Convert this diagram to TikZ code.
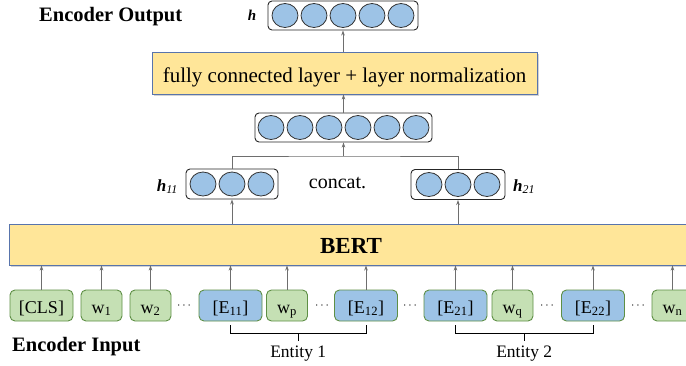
\documentclass[tikz,border=0pt]{standalone}
\usepackage{fontspec}
\setmainfont{Liberation Serif}
\usetikzlibrary{shapes.geometric,shadows,arrows.meta,calc}
\definecolor{cellblue}{HTML}{9DC3E6}
\definecolor{tokgreen}{HTML}{C5E0B4}
\definecolor{tokborder}{HTML}{5E8F45}
\definecolor{layeryellow}{HTML}{FFE699}
\definecolor{layerborder}{HTML}{5874AC}
\definecolor{arrowgrey}{HTML}{6E6E6E}
\newcommand{\fs}[1]{\fontsize{#1}{#1}\selectfont}
\begin{document}
\begin{tikzpicture}[x=1pt,y=-1pt,
  vecbox/.style={draw=black!85, line width=0.9pt, rounded corners=4pt, fill=white, inner sep=0pt},
  cell/.style={ellipse, draw=black!80, line width=0.8pt, fill=cellblue, minimum width=26pt, minimum height=24pt, inner sep=0pt},
  token/.style={rounded corners=5pt, draw=tokborder, line width=0.9pt, minimum height=31pt, inner sep=0pt, font=\fs{18}, text height=15pt, text depth=0pt},
  gtok/.style={token, fill=tokgreen, minimum width=41pt},
  btok/.style={token, fill=cellblue, minimum width=63pt},
  layerbox/.style={draw=layerborder, line width=0.9pt, fill=layeryellow, inner sep=0pt, drop shadow={shadow xshift=1.5pt, shadow yshift=-1.5pt, opacity=0.35}},
  conn/.style={draw=arrowgrey, line width=1pt},
  arr/.style={conn, -{Stealth[length=5pt,width=3.5pt]}},
  dotsnode/.style={font=\fs{13}, inner sep=0pt},
  bracket/.style={draw=black, line width=1pt},
  entlabel/.style={font=\fs{17.5}, anchor=base, inner sep=0pt},
  bigtitle/.style={font=\fs{20.5}\bfseries, anchor=base west, inner sep=0pt}
]
\clip (0,0) rectangle (686,365);
\useasboundingbox (0,0) rectangle (686,365);

% titles
\node[bigtitle] (outtitle) at (39,21) {Encoder Output};
\node[bigtitle] (intitle) at (12,351) {Encoder Input};

% top vector h
\node[vecbox, minimum width=150pt, minimum height=29pt] (hbox) at (343,15.5) {};
\foreach \k in {-2,...,2} \node[cell] (hc\k) at ($(hbox.center)+(\k*29,0)$) {};
\node[font=\fs{15}\bfseries\itshape, anchor=base, inner sep=0pt] (hlab) at (252,20) {h};

% fully connected layer
\node[layerbox, minimum width=385pt, minimum height=42pt, font=\fs{21}, text height=18pt, text depth=0pt] (fc) at (344.5,73) {fully connected layer + layer normalization};

% middle vector
\node[vecbox, minimum width=177pt, minimum height=29pt] (mid) at (343.5,127.5) {};
\foreach \k in {0,...,5} \node[cell] (mc\k) at ($(mid.center)+(\k*29-72.5,0)$) {};

% h11 and h21
\node[vecbox, minimum width=92pt, minimum height=30pt] (h11) at (232,184) {};
\foreach \k in {-1,0,1} \node[cell] (ac\k) at ($(h11.center)+(\k*29,0)$) {};
\node[vecbox, minimum width=94pt, minimum height=30pt] (h21) at (458,184.5) {};
\foreach \k in {-1,0,1} \node[cell] (bc\k) at ($(h21.center)+(\k*29,0)$) {};
\node[font=\fs{17}, anchor=base east, inner sep=0pt] (h11lab) at (178,191) {\textbf{\textit{h}}\textsubscript{\textit{11}}};
\node[font=\fs{17}, anchor=base west, inner sep=0pt] (h21lab) at (513,191) {\textbf{\textit{h}}\textsubscript{\textit{21}}};
\node[font=\fs{20}, anchor=base, inner sep=0pt] (concat) at (337.5,188) {concat.};

% BERT
\node[layerbox, minimum width=684pt, minimum height=41pt, font=\fs{23}\bfseries, text height=17pt, text depth=0pt] (bert) at (351,244.5) {BERT};

% tokens
\node[gtok, minimum width=63pt] (cls) at (41.5,305.5) {[CLS]};
\node[gtok] (w1) at (101.5,305.5) {w\textsubscript{1}};
\node[gtok] (w2) at (150.5,305.5) {w\textsubscript{2}};
\node[btok] (e11) at (230.5,305.5) {[E\textsubscript{11}]};
\node[gtok] (wp) at (287,305.5) {w\textsubscript{p}};
\node[btok] (e12) at (366,305.5) {[E\textsubscript{12}]};
\node[btok] (e21) at (455.5,305.5) {[E\textsubscript{21}]};
\node[gtok] (wq) at (512.5,305.5) {w\textsubscript{q}};
\node[btok] (e22) at (593,305.5) {[E\textsubscript{22}]};
\node[gtok] (wn) at (672.5,305.5) {w\textsubscript{n}};
\node[dotsnode] (d1) at (184,306) {$\cdots$};
\node[dotsnode] (d2) at (322,306) {$\cdots$};
\node[dotsnode] (d3) at (410,306) {$\cdots$};
\node[dotsnode] (d4) at (547,306) {$\cdots$};
\node[dotsnode] (d5) at (638,306) {$\cdots$};

% arrows tokens -> BERT
\foreach \t in {cls,w1,w2,e11,wp,e12,e21,wq,e22,wn}
  \draw[arr] (\t.north) -- (\t.north |- bert.south);

% BERT -> h11, h21
\draw[arr] (h11.south |- bert.north) -- (h11.south);
\draw[arr] (h21.south |- bert.north) -- (h21.south);

% concat
\coordinate (join) at (343.5,156);
\draw[conn] (h11.north) |- (join) -| (h21.north);
\draw[arr] (join) -- (mid.south);
\draw[arr] (mid.north) -- (mid.north |- fc.south);
\draw[arr] (fc.north -| hbox.south) -- (hbox.south);

% entity brackets
\coordinate (b1a) at ([yshift=-4pt]e11.south);
\coordinate (b1b) at ([yshift=-4pt]e12.south);
\coordinate (b2a) at ([yshift=-4pt]e21.south);
\coordinate (b2b) at ([yshift=-4pt]e22.south);
\draw[bracket] (b1a) -- ++(0,8) -| (b1b);
\draw[bracket] (b2a) -- ++(0,8) -| (b2b);
\coordinate (m1) at ($(b1a)!0.5!(b1b)+(0,8)$);
\coordinate (m2) at ($(b2a)!0.5!(b2b)+(0,8)$);
\draw[bracket] (m1) -- ++(0,8);
\draw[bracket] (m2) -- ++(0,8);
\node[entlabel] (ent1) at ($(m1)+(0,24)$) {Entity 1};
\node[entlabel] (ent2) at ($(m2)+(0,24)$) {Entity 2};
\end{tikzpicture}
\end{document}
